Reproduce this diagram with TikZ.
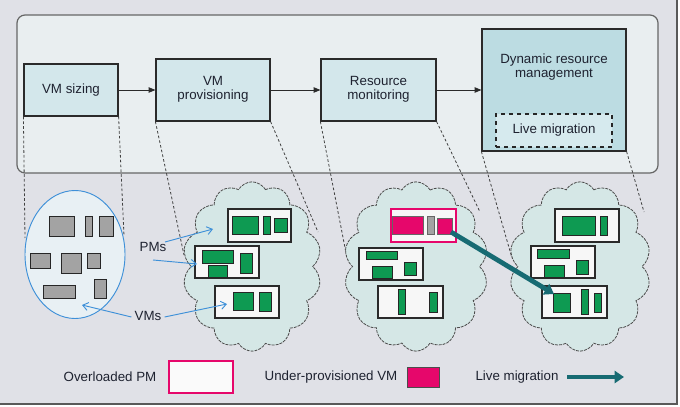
\documentclass[tikz,border=0pt]{standalone}
\usepackage{fontspec}
\setmainfont{Liberation Sans}
\usetikzlibrary{arrows.meta,shapes.symbols,shapes.geometric}
\definecolor{bg}{HTML}{E0E1E7}
\definecolor{outerfill}{HTML}{E9EEF0}
\definecolor{boxfill}{HTML}{D3E7EB}
\definecolor{drmfill}{HTML}{BCDCE2}
\definecolor{lmfill}{HTML}{D6EAEE}
\definecolor{cloudfill}{HTML}{D5E7E6}
\definecolor{ellfill}{HTML}{E8F0F4}
\definecolor{vmgreen}{HTML}{0E9A52}
\definecolor{vmpink}{HTML}{E6076B}
\definecolor{vmgrey}{HTML}{A3A3A3}
\definecolor{blueann}{HTML}{3E90D8}
\definecolor{teal}{HTML}{176B73}
\definecolor{txt}{HTML}{1E2230}
\definecolor{edge}{HTML}{2A2A2A}
\tikzset{
  lbl/.style={font=\fontsize{10}{10.5}\selectfont, text=txt, align=center, inner sep=0pt},
  stagebox/.style={draw=edge, line width=0.9pt, fill=boxfill, inner sep=0pt},
  link/.style={-{Triangle[length=5pt,width=4pt]}, draw=edge, line width=0.6pt},
  guide/.style={draw=black!75, line width=0.6pt, dash pattern=on 2pt off 1.6pt},
  cloudsty/.style={cloud, cloud puffs=14, cloud puff arc=120, draw=black!70, fill=cloudfill, line width=0.6pt, dash pattern=on 2.2pt off 0.8pt, inner sep=0pt},
  pm/.style={draw=edge, line width=0.8pt, fill=white!97!black},
  opm/.style={draw=vmpink, line width=0.8pt, fill=white!97!black},
  vm/.style={draw=black!85, line width=0.7pt, fill=vmgreen},
  vmp/.style={draw=black!60, line width=0.5pt, fill=vmpink},
  vmg/.style={draw=black!85, line width=0.7pt, fill=vmgrey},
  ann/.style={draw=blueann, line width=0.7pt, -{Straight Barb[length=4pt,width=6pt]}},
  migr/.style={draw=teal, line width=3.6pt, -{Triangle[length=7pt,width=9pt]}}
}
\begin{document}
\begin{tikzpicture}[x=0.75pt,y=-0.75pt]
\useasboundingbox (0,0) rectangle (680,406);
\fill[bg] (0,0) rectangle (677,404);
\draw[black!65, line width=1.2pt] (677,0) -- (677,404) -- (0,404);

% outer panel
\draw[draw=black!60, line width=0.9pt, fill=outerfill, rounded corners=6pt] (17,15) rectangle (658,173);

% stage boxes
\node[stagebox, minimum width=70.5pt, minimum height=39pt] (sizing) at (71,90) {};
\node[lbl] (sizingt) at (71,90) {VM sizing};
\node[stagebox, minimum width=85.5pt, minimum height=46.5pt] (prov) at (213,90) {};
\node[lbl] (provt) at (213,89) {VM\\provisioning};
\node[stagebox, minimum width=86.25pt, minimum height=46.5pt] (mon) at (378.5,90) {};
\node[lbl] (mont) at (378.5,89) {Resource\\monitoring};
\node[stagebox, fill=drmfill, minimum width=108pt, minimum height=91.5pt] (drm) at (554,90) {};
\node[lbl] (drmt) at (554,67) {Dynamic resource\\management};
\node[draw=black!85, line width=0.8pt, dashed, fill=lmfill, minimum width=87pt, minimum height=24.75pt, inner sep=0pt] (lm) at (554,130.5) {};
\node[lbl] (lmt) at (554,130.5) {Live migration};

\draw[link] (sizing.east) -- (prov.west);
\draw[link] (prov.east) -- (mon.west);
\draw[link] (mon.east) -- (drm.west);

% guide end points
\coordinate (s1) at (25,238);
\coordinate (s2) at (124,236);
\coordinate (p1) at (184,255);
\coordinate (p2) at (318,232);
\coordinate (r1) at (347,258);
\coordinate (r2) at (480,212);
\coordinate (d1) at (512,258);
\coordinate (d2) at (644,212);
\draw[guide] (sizing.south west) -- (s1);
\draw[guide] (sizing.south east) -- (s2);
\draw[guide] (prov.south west) -- (p1);
\draw[guide] (prov.south east) -- (p2);
\draw[guide] (mon.south west) -- (r1);
\draw[guide] (mon.south east) -- (r2);
\draw[guide] (drm.south west) -- (d1);
\draw[guide] (drm.south east) -- (d2);

% VM pool ellipse
\node[ellipse, draw=blueann, line width=0.7pt, fill=ellfill, minimum width=75pt, minimum height=96pt, inner sep=0pt] (pool) at (75,254.5) {};
\draw[vmg] (49,216) rectangle (74,236);
\draw[vmg] (85,216) rectangle (92,236);
\draw[vmg] (99,216) rectangle (113,236);
\draw[vmg] (30,253) rectangle (50,268);
\draw[vmg] (61,253) rectangle (81,273);
\draw[vmg] (87,253) rectangle (100,268);
\draw[vmg] (43,285) rectangle (75,298);
\draw[vmg] (94,279) rectangle (106,298);

% clouds
\node[cloudsty, minimum width=104pt, minimum height=127pt] (c2) at (252,266.5) {};
\node[cloudsty, minimum width=108pt, minimum height=127pt] (c3) at (416,266.5) {};
\node[cloudsty, minimum width=106pt, minimum height=127pt] (c4) at (580,266.5) {};

% cloud 2
\draw[pm] (228,209) rectangle (291,242);
\draw[vm] (232,216) rectangle (258,234);
\draw[vm] (263,216) rectangle (270,234);
\draw[vm] (274,218) rectangle (287,232);
\draw[pm] (195,246) rectangle (259,278);
\draw[vm] (202,250) rectangle (233,263);
\draw[vm] (208,265) rectangle (227,277);
\draw[vm] (240,253) rectangle (252,273);
\draw[pm] (215,286) rectangle (279,318);
\draw[vm] (233,292) rectangle (253,310);
\draw[vm] (259,292) rectangle (271,311);

% cloud 3
\draw[opm] (391,209) rectangle (456,242);
\draw[vmp] (392,216) rectangle (423,234);
\draw[vmg, line width=0.5pt, draw=black!60] (427,216) rectangle (434,234);
\draw[vmp] (437,218) rectangle (452,234);
\coordinate (mfrom) at (451,232);
\draw[pm] (359,248) rectangle (423,280);
\draw[vm] (366,251) rectangle (397,259);
\draw[vm] (372,266) rectangle (392,278);
\draw[vm] (404,262) rectangle (416,275);
\draw[pm] (378,286) rectangle (443,318);
\draw[vm] (398,289) rectangle (405,314);
\draw[vm] (429,292) rectangle (437,312);

% cloud 4
\draw[pm] (555,209) rectangle (619,242);
\draw[vm] (562,216) rectangle (595,235);
\draw[vm] (600,216) rectangle (607,235);
\draw[pm] (531,246) rectangle (595,278);
\draw[vm] (537,249) rectangle (569,258);
\draw[vm] (544,265) rectangle (564,277);
\draw[vm] (576,260) rectangle (588,274);
\draw[pm] (542,286) rectangle (607,318);
\draw[vm] (553,293) rectangle (570,312);
\draw[vm] (581,289) rectangle (588,314);
\draw[vm] (594,293) rectangle (601,312);
\coordinate (mto) at (554,294);

% migration arrow
\draw[migr] (mfrom) -- (mto);

% annotations
\node[lbl] (pms) at (153,247) {PMs};
\node[lbl] (vms) at (148,316) {VMs};
\coordinate (pa1) at (213,229);
\coordinate (pa2) at (197,264);
\coordinate (va1) at (82,305);
\coordinate (va2) at (227,304);
\draw[ann] (165,242) -- (pa1);
\draw[ann] (153,260) -- (pa2);
\draw[ann] (vms.west) ++(-3,1) -- (va1);
\draw[ann] (vms.east) ++(3,1) -- (va2);

% legend
\node[lbl] (lg1) at (110,377) {Overloaded PM};
\node[draw=vmpink, line width=0.9pt, fill=white!98!black, minimum width=48pt, minimum height=24pt, inner sep=0pt] (lgbox) at (201,377) {};
\node[lbl] (lg2) at (331,377) {Under-provisioned VM};
\node[draw=black!70, line width=0.6pt, fill=vmpink, minimum width=24pt, minimum height=15pt, inner sep=0pt] (lgvm) at (423,377.5) {};
\node[lbl] (lg3) at (517,377) {Live migration};
\coordinate (la1) at (567,377);
\coordinate (la2) at (624,377);
\draw[migr, line width=3pt] (la1) -- (la2);
\end{tikzpicture}
\end{document}
